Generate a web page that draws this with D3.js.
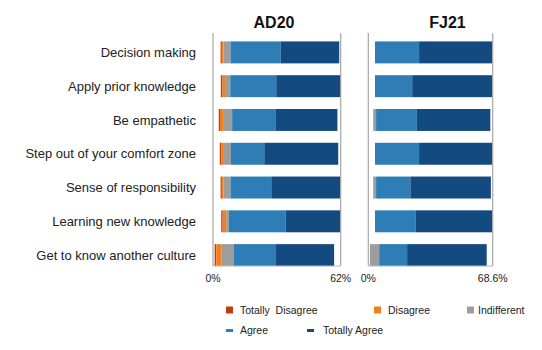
<!DOCTYPE html>
<html>
<head>
<meta charset="utf-8">
<script src="https://cdn.jsdelivr.net/npm/d3@7"></script>
<style>
  body { margin: 0; background: #fff; }
  svg { display: block; font-family: "Liberation Sans", Arial, sans-serif; }
</style>
</head>
<body>
<div id="chart"></div>
<script>
// categories (top to bottom)
const categories = [
  "Decision making",
  "Apply prior knowledge",
  "Be empathetic",
  "Step out of your comfort zone",
  "Sense of responsibility",
  "Learning new knowledge",
  "Get to know another culture"
];

const seriesNames = ["Totally  Disagree", "Disagree", "Indifferent", "Agree", "Totally Agree"];
const seriesColors = ["#c23d0e", "#f37f1f", "#9d9d9d", "#2e7db6", "#134a80"];

// AD20 (invisible leading spacer + five answer groups)
const ad20Spacer      = [3.7, 3.8, 2.8, 3.3, 3.7, 4.0, 0.8];
const ad20TotDisagree = [0.6, 0.8, 0.6, 0.8, 0.6, 0.7, 0.8];
const ad20Disagree    = [0.8, 1.2, 1.5, 1.2, 0.8, 1.7, 2.4];
const ad20Indifferent = [3.4, 2.6, 4.4, 3.4, 3.4, 1.3, 6.2];
const ad20Agree       = [24.3, 22.3, 21.0, 16.2, 19.8, 27.5, 20.4];
const ad20TotAgree    = [28.5, 31.4, 30.1, 35.9, 33.5, 26.7, 28.2];

// FJ21
const fj21Spacer      = [3.7, 3.7, 2.7, 3.7, 2.7, 3.7, 0.9];
const fj21TotDisagree = [0, 0, 0, 0, 0, 0, 0];
const fj21Disagree    = [0, 0, 0, 0, 0, 0, 0];
const fj21Indifferent = [0, 0, 1.6, 0, 1.6, 0, 5.1];
const fj21Agree       = [24.3, 20.5, 22.5, 24.3, 18.9, 22.3, 15.4];
const fj21TotAgree    = [40.3, 44.1, 40.5, 40.3, 44.4, 42.3, 43.9];

// axis ends
const ad20Max = 62, ad20Ticks = [0, 62], ad20TickLabels = ["0%", "62%"];
const fj21Max = 68.6, fj21Ticks = [0, 68.6], fj21TickLabels = ["0%", "68.6%"];

const width = 542, height = 350;
const svg = d3.select("#chart").append("svg")
  .attr("width", width).attr("height", height);

const y = d3.scaleBand().domain(categories).range([35.5, 272]).paddingInner(0.35).paddingOuter(0.175);

// category labels
svg.append("g").selectAll("text").data(categories).join("text")
  .attr("x", 196)
  .attr("y", d => y(d) + y.bandwidth() / 2)
  .attr("dy", "0.35em")
  .attr("text-anchor", "end")
  .attr("fill", "#222")
  .style("font-size", "13px")
  .text(d => d);

const keys = ["spacer", "td", "d", "i", "a", "ta"];

function panel(title, titleX, x0, x1, max, ticks, tickLabels, cols) {
  const x = d3.scaleLinear().domain([0, max]).range([x0, x1]);
  const rows = categories.map((c, i) => {
    const r = { cat: c };
    keys.forEach((k, j) => r[k] = cols[j][i]);
    return r;
  });
  const stacked = d3.stack().keys(keys)(rows);

  const g = svg.append("g");

  g.selectAll("g.s").data(stacked.slice(1)).join("g")
    .attr("class", "s")
    .attr("fill", (d, i) => seriesColors[i])
    .selectAll("rect").data(d => d).join("rect")
    .attr("x", d => x(d[0]))
    .attr("width", d => Math.max(0, x(d[1]) - x(d[0])))
    .attr("y", d => y(d.data.cat))
    .attr("height", y.bandwidth());

  // frame lines
  [0, max].forEach(v => {
    g.append("line")
      .attr("x1", x(v)).attr("x2", x(v))
      .attr("y1", 33).attr("y2", 266)
      .attr("stroke", "#a6a6a6").attr("stroke-width", 1.2);
  });
  g.append("line")
    .attr("x1", x(0)).attr("x2", x(max))
    .attr("y1", 266).attr("y2", 266)
    .attr("stroke", "#bdbdbd").attr("stroke-width", 1);

  g.selectAll("text.tick").data(ticks).join("text")
    .attr("class", "tick")
    .attr("x", d => x(d))
    .attr("y", 282)
    .attr("text-anchor", "middle")
    .attr("fill", "#222")
    .style("font-size", "10.5px")
    .text((d, i) => tickLabels[i]);

  g.append("text")
    .attr("x", titleX).attr("y", 28)
    .attr("text-anchor", "middle")
    .attr("font-weight", "bold")
    .attr("fill", "#111")
    .style("font-size", "16px")
    .text(title);
}

panel("AD20", 274, 213, 340.7, ad20Max, ad20Ticks, ad20TickLabels,
  [ad20Spacer, ad20TotDisagree, ad20Disagree, ad20Indifferent, ad20Agree, ad20TotAgree]);
panel("FJ21", 447.5, 368.3, 492.7, fj21Max, fj21Ticks, fj21TickLabels,
  [fj21Spacer, fj21TotDisagree, fj21Disagree, fj21Indifferent, fj21Agree, fj21TotAgree]);

// legend
const legendPos = [
  { x: 226, y: 310, box: true },
  { x: 374, y: 310, box: true },
  { x: 467, y: 310, box: true },
  { x: 226, y: 330.5, box: false },
  { x: 307, y: 330.5, box: false }
];
const legend = svg.append("g").selectAll("g").data(seriesNames).join("g")
  .attr("transform", (d, i) => `translate(${legendPos[i].x},${legendPos[i].y})`);

legend.append("rect")
  .attr("x", 0)
  .attr("y", (d, i) => legendPos[i].box ? -3.5 : -1.5)
  .attr("width", 7)
  .attr("height", (d, i) => legendPos[i].box ? 7 : 3)
  .attr("fill", (d, i) => seriesColors[i]);

legend.append("text")
  .attr("x", (d, i) => i === 2 ? 11 : (i === 4 ? 16 : 14))
  .attr("y", 0)
  .attr("dy", "0.35em")
  .attr("fill", "#222")
  .style("font-size", "10.5px")
  .style("white-space", "pre")
  .text(d => d);
</script>
</body>
</html>
